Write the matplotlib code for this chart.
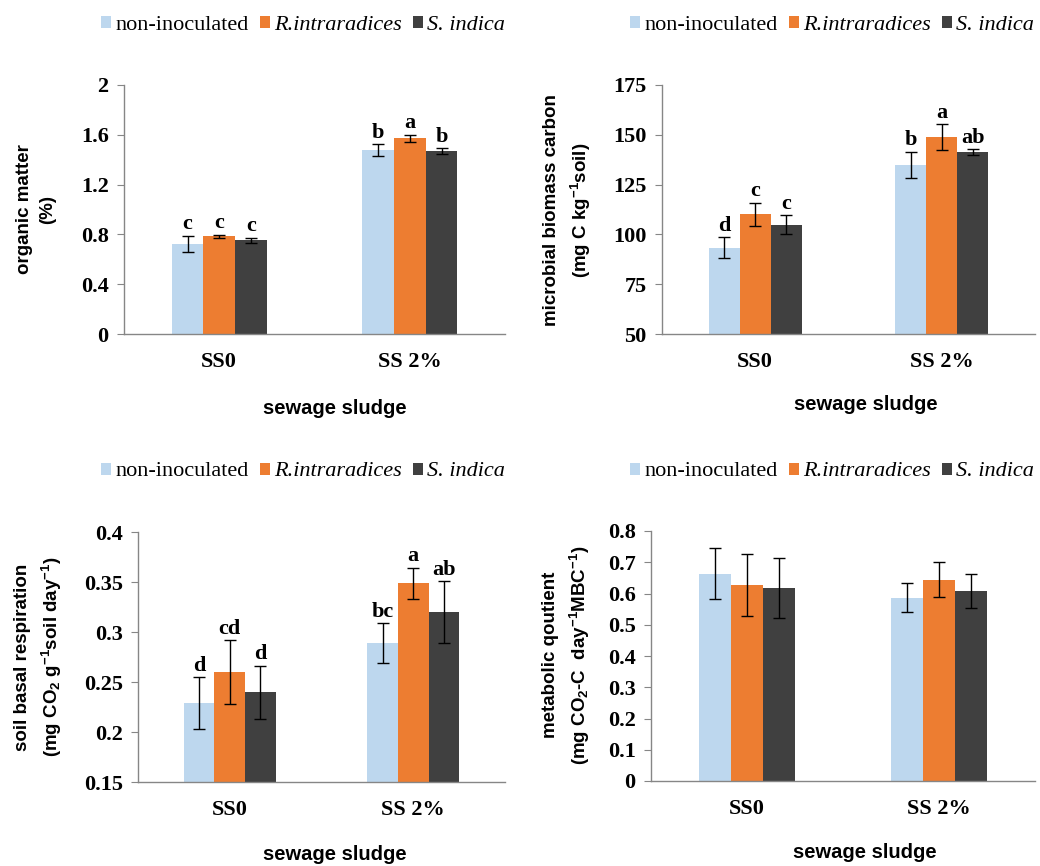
import numpy as np
import matplotlib.pyplot as plt

plt.rcParams['font.family'] = ['Liberation Serif', 'DejaVu Serif']
plt.rcParams['mathtext.default'] = 'regular'

# categories and series
groups = ["SS0", "SS 2%"]
series = ["non-inoculated", "R.intraradices", "S. indica"]
colors = ["#BDD7EE", "#ED7D31", "#404040"]

# organic matter (%)  -> rows: non-inoculated, R.intraradices, S. indica
om_mean = [[0.725, 1.478], [0.785, 1.572], [0.752, 1.470]]
om_err = [[0.065, 0.045], [0.013, 0.028], [0.020, 0.022]]
om_let = [["c", "b"], ["c", "a"], ["c", "b"]]

# microbial biomass carbon
mbc_mean = [[93.4, 135.0], [110.2, 148.8], [104.8, 141.3]]
mbc_err = [[5.3, 6.6], [5.8, 6.4], [4.8, 1.5]]
mbc_let = [["d", "b"], ["c", "a"], ["c", "ab"]]

# soil basal respiration
sbr_mean = [[0.229, 0.289], [0.260, 0.349], [0.240, 0.320]]
sbr_err = [[0.026, 0.020], [0.032, 0.0155], [0.0265, 0.031]]
sbr_let = [["d", "bc"], ["cd", "a"], ["d", "ab"]]

# metabolic quotient
mq_mean = [[0.664, 0.587], [0.627, 0.644], [0.617, 0.608]]
mq_err = [[0.083, 0.047], [0.100, 0.056], [0.096, 0.055]]

fig = plt.figure(figsize=(10.4, 8.66), dpi=100)
W, H = 1040, 866


def px_axes(x0, y0, x1, y1):
    # pixel box (top-left origin) -> figure axes
    return fig.add_axes([x0 / W, 1 - y1 / H, (x1 - x0) / W, (y1 - y0) / H])


def draw(ax, means, errs, letters, ylim, yticks):
    x = np.arange(len(groups))
    w = 1 / 6
    for j in range(3):
        xs = x + (j - 1) * w
        ax.bar(xs, means[j], w, color=colors[j], label=series[j],
               yerr=errs[j], capsize=4,
               error_kw=dict(elinewidth=1, capthick=1, ecolor="black"))
        if letters:
            for i in range(len(groups)):
                ax.annotate(letters[j][i], (xs[i], means[j][i] + errs[j][i]),
                            xytext=(0, 1), textcoords="offset points",
                            ha="center", va="bottom", fontsize=16,
                            fontweight="bold")
    ax.set_xlim(-0.5, 1.5)
    ax.set_ylim(*ylim)
    ax.set_yticks(yticks)
    ax.set_yticklabels([f"{t:g}" for t in yticks], fontsize=16, fontweight="bold")
    ax.set_xticks(x)
    ax.set_xticklabels(groups, fontsize=16, fontweight="bold")
    ax.tick_params(axis="x", length=0, pad=13)
    ax.tick_params(axis="y", direction="out", length=5, color="#868686", pad=6)
    for s in ["top", "right"]:
        ax.spines[s].set_visible(False)
    for s in ["left", "bottom"]:
        ax.spines[s].set_color("#868686")
        ax.spines[s].set_linewidth(1)

    leg = ax.legend(loc="center", ncol=3, frameon=False, fontsize=16,
                    handlelength=0.45, handleheight=0.45, handletextpad=0.2,
                    columnspacing=0.5, borderaxespad=0)
    leg.get_texts()[1].set_style("italic")
    leg.get_texts()[2].set_style("italic")
    return leg


def label(text, x, y, rot=0, size=13.5):
    fig.text(x / W, 1 - y / H, text, rotation=rot, ha="center", va="center",
             family="Liberation Sans", fontweight="bold", fontsize=size,
             linespacing=1.45)


ax1 = px_axes(124, 85, 505, 334)
leg = draw(ax1, om_mean, om_err, om_let, (0, 2), [0, 0.4, 0.8, 1.2, 1.6, 2])
leg.set_bbox_to_anchor((303 / W, 1 - 25 / H), transform=fig.transFigure)
label("organic matter\n(%)", 36, 209, rot=90)
label("sewage sludge", 335, 408, size=14.5)

ax2 = px_axes(662, 85, 1035, 334)
leg = draw(ax2, mbc_mean, mbc_err, mbc_let, (50, 175), [50, 75, 100, 125, 150, 175])
leg.set_bbox_to_anchor((832 / W, 1 - 25 / H), transform=fig.transFigure)
label("microbial biomass carbon\n(mg C kg$^{-1}$soil)", 568, 210, rot=90)
label("sewage sludge", 866, 405, size=14.5)

ax3 = px_axes(138, 532, 505, 782)
leg = draw(ax3, sbr_mean, sbr_err, sbr_let, (0.15, 0.4), [0.15, 0.2, 0.25, 0.3, 0.35, 0.4])
leg.set_bbox_to_anchor((303 / W, 1 - 472 / H), transform=fig.transFigure)
label("soil basal respiration\n(mg CO$_2$ g$^{-1}$soil day$^{-1}$)", 39, 657, rot=90)
label("sewage sludge", 335, 855, size=14.5)

ax4 = px_axes(651, 531, 1035, 781)
leg = draw(ax4, mq_mean, mq_err, None, (0, 0.8), [0, 0.1, 0.2, 0.3, 0.4, 0.5, 0.6, 0.7, 0.8])
leg.set_bbox_to_anchor((832 / W, 1 - 472 / H), transform=fig.transFigure)
label("metabolic qoutient\n(mg CO$_2$-C  day$^{-1}$MBC$^{-1}$)", 567, 655, rot=90)
label("sewage sludge", 865, 853, size=14.5)

fig.savefig("out.png", dpi=100)
